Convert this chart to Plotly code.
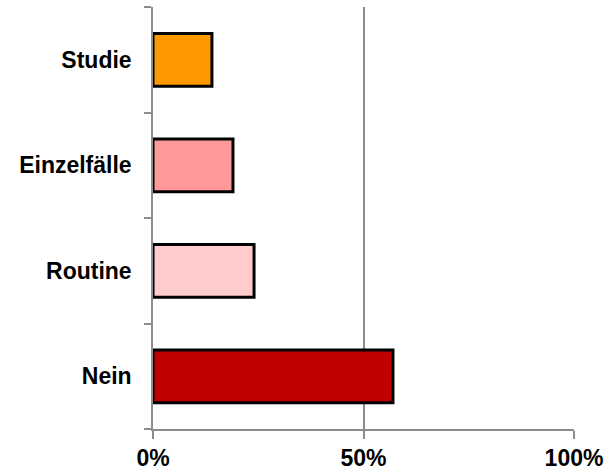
import plotly.graph_objects as go

# Survey answers (bottom to top) and their shares in percent
categories = ["Nein", "Routine", "Einzelfälle", "Studie"]
shares = [57, 24, 19, 14]
bar_colors = ["#C00000", "#FFCCCC", "#FF9999", "#FF9900"]

x_ticks = [0, 50, 100]
x_tick_labels = ["0%", "50%", "100%"]

axis_gray = "#8C8C8C"
label_font = "Liberation Sans, Arial, sans-serif"

fig = go.Figure(
    go.Bar(
        x=shares,
        y=categories,
        orientation="h",
        marker=dict(color=bar_colors, line=dict(color="black", width=3)),
        hoverinfo="x+y",
    )
)

fig.update_layout(
    width=611,
    height=472,
    margin=dict(l=153, r=37, t=7, b=43),
    paper_bgcolor="white",
    plot_bgcolor="white",
    bargap=0.5,
    showlegend=False,
    font=dict(family=label_font, color="black"),
)

fig.update_xaxes(
    range=[0, 100],
    tickvals=x_ticks,
    ticktext=x_tick_labels,
    tickfont=dict(size=23, family=label_font, weight="bold"),
    showgrid=True,
    gridcolor=axis_gray,
    gridwidth=1.5,
    showline=True,
    linecolor=axis_gray,
    linewidth=1.5,
    ticks="outside",
    ticklen=8,
    tickcolor=axis_gray,
    tickwidth=1.5,
    ticklabelstandoff=0,
    zeroline=False,
    automargin=False,
    fixedrange=True,
)

fig.update_yaxes(
    categoryorder="array",
    categoryarray=categories,
    tickfont=dict(size=23, family=label_font, weight="bold"),
    showgrid=False,
    showline=True,
    linecolor=axis_gray,
    linewidth=1.5,
    ticks="outside",
    tickson="boundaries",
    ticklen=7,
    tickcolor=axis_gray,
    tickwidth=1.5,
    ticklabelstandoff=15,
    automargin=False,
    fixedrange=True,
)

fig.write_html("out.html")
